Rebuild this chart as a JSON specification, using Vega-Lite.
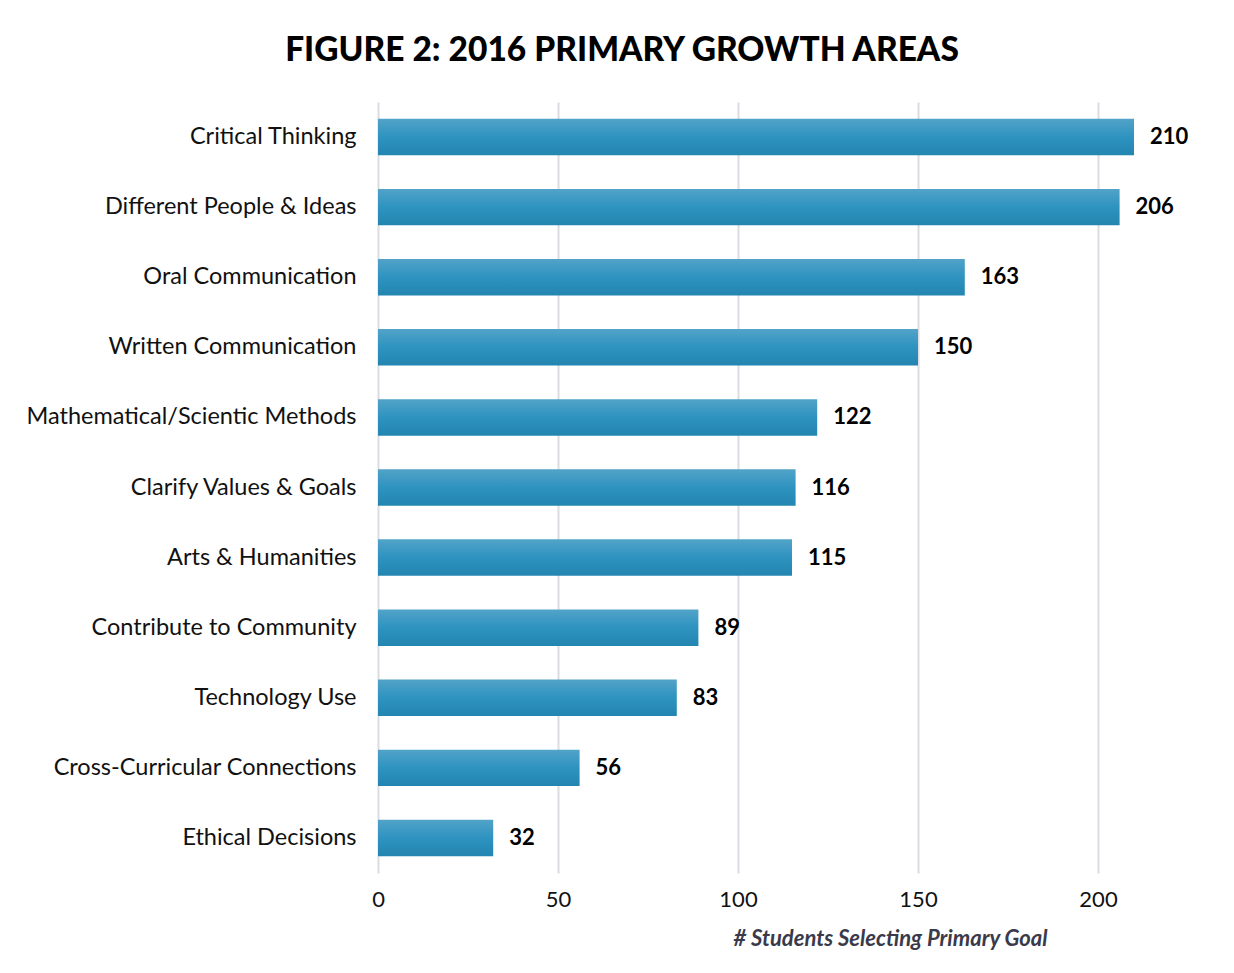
{
  "$schema": "https://vega.github.io/schema/vega-lite/v6.json",
  "width": 792,
  "height": 771,
  "padding": {"left": 26, "top": 33, "right": 10, "bottom": 10},
  "background": "white",
  "title": {
    "text": "FIGURE 2: 2016 PRIMARY GROWTH AREAS",
    "font": "Lato",
    "fontSize": 33.5,
    "fontWeight": 900,
    "color": "#000000",
    "anchor": "middle",
    "frame": "group",
    "dx": -152,
    "offset": 34
  },
  "data": {
    "values": [
      {"area": "Critical Thinking", "count": 210},
      {"area": "Different People & Ideas", "count": 206},
      {"area": "Oral Communication", "count": 163},
      {"area": "Written Communication", "count": 150},
      {"area": "Mathematical/Scientic Methods", "count": 122},
      {"area": "Clarify Values & Goals", "count": 116},
      {"area": "Arts & Humanities", "count": 115},
      {"area": "Contribute to Community", "count": 89},
      {"area": "Technology Use", "count": 83},
      {"area": "Cross-Curricular Connections", "count": 56},
      {"area": "Ethical Decisions", "count": 32}
    ]
  },
  "encoding": {
    "y": {
      "field": "area",
      "type": "nominal",
      "sort": null,
      "scale": {"paddingInner": 0.48, "paddingOuter": 0.24},
      "axis": {
        "title": null,
        "ticks": false,
        "domain": false,
        "labelFont": "Lato",
        "labelFontSize": 23.5,
        "labelColor": "#111111",
        "labelPadding": 22,
        "labelLimit": 500
      }
    },
    "x": {
      "field": "count",
      "type": "quantitative",
      "scale": {"domain": [0, 220], "nice": false},
      "axis": {
        "values": [0, 50, 100, 150, 200],
        "title": "# Students Selecting Primary Goal",
        "titleFont": "Lato",
        "titleFontSize": 22,
        "titleFontStyle": "italic",
        "titleFontWeight": "bold",
        "titleColor": "#3a3a4a",
        "titlePadding": 18,
        "titleX": 512,
        "labelFont": "Lato",
        "labelFontSize": 22,
        "labelColor": "#111111",
        "labelPadding": 16,
        "labelFlush": false,
        "ticks": false,
        "domain": false,
        "grid": true,
        "gridColor": "#dcdce3",
        "gridWidth": 2
      }
    }
  },
  "layer": [
    {
      "mark": {
        "type": "bar",
        "color": {
          "gradient": "linear",
          "x1": 0, "y1": 0, "x2": 0, "y2": 1,
          "stops": [
            {"offset": 0, "color": "#52a3c8"},
            {"offset": 0.5, "color": "#2e93c0"},
            {"offset": 1, "color": "#2385b0"}
          ]
        }
      }
    },
    {
      "mark": {
        "type": "text",
        "align": "left",
        "dx": 16,
        "font": "Lato",
        "fontSize": 22,
        "fontWeight": "bold",
        "color": "#000000"
      },
      "encoding": {
        "text": {"field": "count", "type": "quantitative"}
      }
    }
  ],
  "config": {
    "view": {"stroke": null}
  }
}
